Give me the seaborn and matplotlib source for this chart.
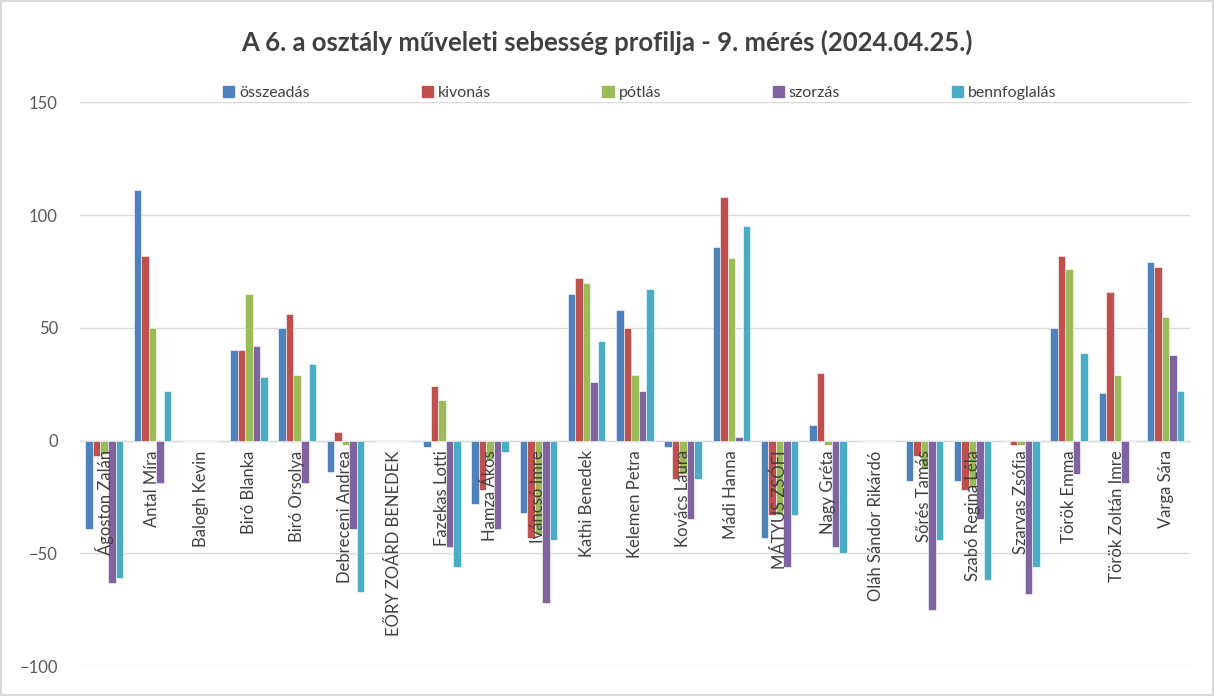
import numpy as np
import pandas as pd
import matplotlib.pyplot as plt
import seaborn as sns

# tanulók és az öt művelet értékei
names = ["Ágoston Zalán", "Antal Míra", "Balogh Kevin", "Biró Blanka", "Biró Orsolya",
         "Debreceni Andrea", "EŐRY ZOÁRD BENEDEK", "Fazekas Lotti", "Hamza Ákos",
         "Iváncsó Imre", "Kathi Benedek", "Kelemen Petra", "Kovács Laura", "Mádi Hanna",
         "MÁTYUS ZSÓFI", "Nagy Gréta", "Oláh Sándor Rikárdó", "Sőrés Tamás",
         "Szabó Regina Léla", "Szarvas Zsófia", "Török Emma", "Török Zoltán Imre", "Varga Sára"]

osszeadas = [-39, 111, 0, 40, 50, -14, 0, -3, -28, -32, 65, 58, -3, 86, -43, 7, 0, -18, -18, 0, 50, 21, 79]
kivonas = [-7, 82, 0, 40, 56, 4, 0, 24, -22, -43, 72, 50, -17, 108, -33, 30, 0, -7, -22, -2, 82, 66, 77]
potlas = [-6, 50, 0, 65, 29, -2, 0, 18, -8, -42, 70, 29, -15, 81, -33, -2, 0, -12, -20, -2, 76, 29, 55]
szorzas = [-63, -19, 0, 42, -19, -39, 0, -47, -39, -72, 26, 22, -35, 1.5, -56, -47, 0, -75, -35, -68, -15, -19, 38]
bennfoglalas = [-61, 22, 0, 28, 34, -67, 0, -56, -5, -44, 44, 67, -17, 95, -33, -50, 0, -44, -62, -56, 39, 0, 22]

series = ["összeadás", "kivonás", "pótlás", "szorzás", "bennfoglalás"]
colors = ["#4F81BD", "#C0504D", "#9BBB59", "#8064A2", "#4BACC6"]

df = pd.DataFrame({"nev": names, "összeadás": osszeadas, "kivonás": kivonas,
                   "pótlás": potlas, "szorzás": szorzas, "bennfoglalás": bennfoglalas})
long = df.melt(id_vars="nev", var_name="muvelet", value_name="ertek")

sns.set_style("white")
plt.rcParams["font.family"] = ["Lato", "DejaVu Sans"]

fig = plt.figure(figsize=(12.14, 6.96), dpi=100, linewidth=1.5, edgecolor="#d9d9d9")
ax = fig.add_axes([0.066, 0.043, 0.914, 0.81])

sns.barplot(data=long, x="nev", y="ertek", hue="muvelet", hue_order=series,
            palette=colors, saturation=1, width=0.78, ax=ax,
            edgecolor="white", linewidth=0.4, errorbar=None)

ax.set_ylim(-100, 150)
ax.set_yticks([-100, -50, 0, 50, 100, 150])
ax.yaxis.grid(True, color="#d9d9d9", linewidth=1)
ax.set_axisbelow(True)
# a nevek a oszlopok fölé kerülnek, a rácsvonalak alá
ax.xaxis.set_zorder(3)
ax.set_xlim(-0.5, len(names) - 0.5)
ax.set_xlabel("")
ax.set_ylabel("")

for s in ["top", "right", "left"]:
    ax.spines[s].set_visible(False)
ax.spines["bottom"].set_position(("data", 0))
ax.spines["bottom"].set_color("#d9d9d9")
ax.spines["bottom"].set_linewidth(1)
ax.spines["bottom"].set_zorder(0.6)

ax.tick_params(axis="x", length=0, pad=7, labelsize=12, labelcolor="#404040", labelrotation=90)
ax.tick_params(axis="y", length=0, pad=16, labelsize=12, labelcolor="#595959")
for lab in ax.get_xticklabels():
    lab.set_va("top")

ax.get_legend().remove()
handles = [plt.Rectangle((0, 0), 1, 1, color=c) for c in colors]
fig.legend(handles, series, loc="center", bbox_to_anchor=(0.527, 1 - 93 / 696),
           ncol=5, frameon=False, fontsize=11.5, handlelength=0.7, handleheight=0.7,
           handletextpad=0.3, columnspacing=7.0, labelcolor="#404040")

fig.suptitle("A 6. a osztály műveleti sebesség profilja - 9. mérés (2024.04.25.)",
             y=1 - 42 / 696, va="center", fontsize=18.5, fontweight="bold", color="#404040")

fig.savefig("out.png", dpi=100, edgecolor=fig.get_edgecolor())
